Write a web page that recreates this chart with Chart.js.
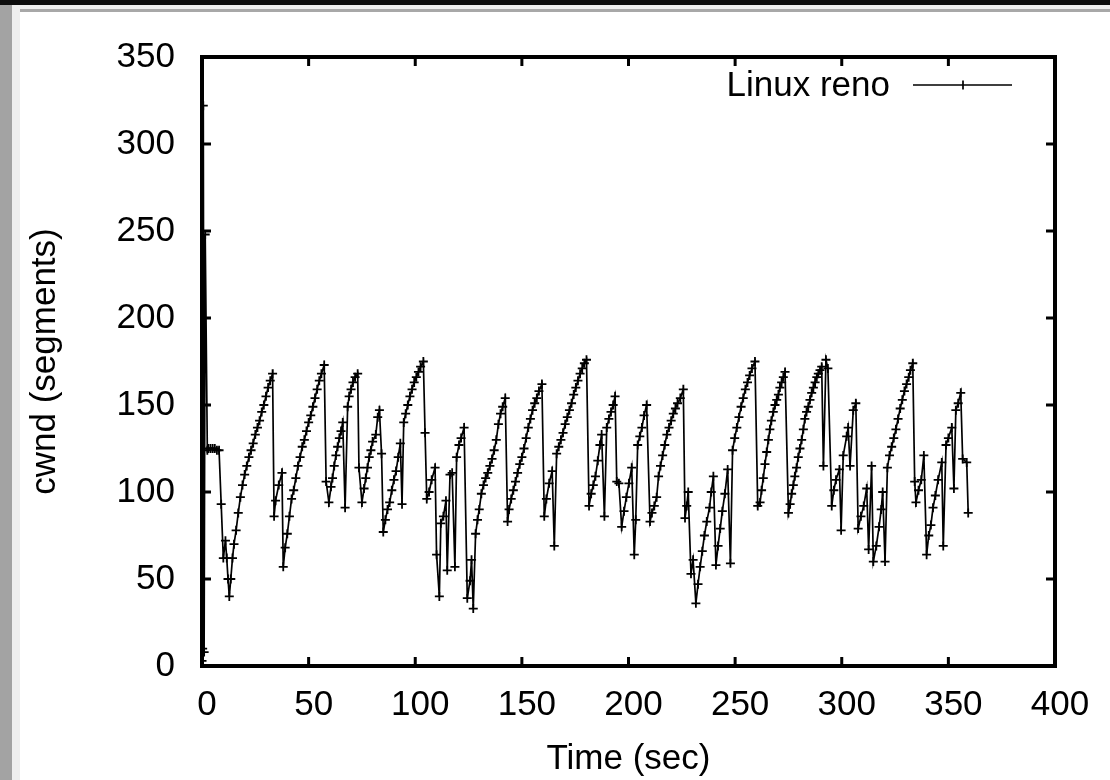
<!DOCTYPE html>
<html>
<head>
<meta charset="utf-8">
<script src="https://cdn.jsdelivr.net/npm/chart.js@4.4.0/dist/chart.umd.min.js"></script>
<style>
html,body{margin:0;padding:0;background:#fff;}
#wrap{position:relative;width:1110px;height:780px;overflow:hidden;background:#fff;}
.topband{position:absolute;left:0;top:0;width:1110px;height:5px;background:#0d0d0d;}
.leftband{position:absolute;left:0;top:5px;width:12px;height:775px;background:#a3a3a3;}
.leftlight{position:absolute;left:12px;top:5px;width:8px;height:775px;background:#efefef;}
.toplight{position:absolute;left:12px;top:5px;width:1098px;height:4px;background:#efefef;}
.topline{position:absolute;left:20px;top:9px;width:1090px;height:3px;background:#a8a8a8;}
canvas{position:absolute;left:0;top:0;}
</style>
</head>
<body>
<div id="wrap">
<div class="topband"></div><div class="leftband"></div><div class="leftlight"></div><div class="toplight"></div><div class="topline"></div>
<canvas id="c" width="1110" height="780"></canvas>
</div>
<script>
const seriesLabel = 'Linux reno';
const xTicks = [0, 50, 100, 150, 200, 250, 300, 350, 400];
const yTicks = [0, 50, 100, 150, 200, 250, 300, 350];

const time = [
0,0.3,0.6,1.0,1.5,2.5,3,4,5,6,7,8,9,10,11,11.6,12.2,12.8,13.5,14.3,15,16,17,18,19,20,21,22,23,24,25,26,27,28,29,30,31,32,33.1,
33.8,34.5,36,37.5,38.1,39,40,41,42,43,44,45,46,47,48,49,50,51,52,53,54,55,56,57.3,
58.2,59.5,60.5,61.2,62,62.8,63.6,64.4,65.2,66,67.1,68.3,69,69.9,70.8,71.8,73,
73.6,75,76,76.8,77.6,78.4,79.2,80,81.5,82.4,83.2,84.2,85,86,87,88,89,90,91,92,93,93.8,
94.6,95.5,96.5,97.5,98.5,99.5,100.5,101.5,102.5,103.8,
104.6,105.4,106.5,107.7,109.3,110,111.3,112,113.2,114.4,115,116.3,117.3,118.6,119.4,120.5,121.5,122.9,124.4,125.7,126.4,127.2,
128.3,129.2,130,131,132,133,134,135,136,137,138,139,140,141,142.2,
143.3,144,145,146,147,148,149,150,151,152,153,154,155,156,157,158,159.4,
160.5,161.5,162.8,164.2,165.2,166.3,167.3,168.3,169.3,170.3,171.3,172.3,173.3,174.3,175.3,176.3,177.3,178.3,179.3,180.3,
181.5,182.5,183.5,184.5,185.6,186.6,187.4,188.7,189.8,190.8,191.8,192.8,193.7,
194.5,195.5,196.8,197.9,199,200.2,201.5,202.7,203.4,204.3,205.3,206.3,207.3,208.5,
210.1,211,212.1,213.2,214.1,215,216,217,218,219,220,221,222,223,224.3,225.7,
226.5,227.3,228,229.3,230.3,231.6,232.6,233.6,234.6,235.6,236.7,238,238.8,239.8,
241,242,243,244,245.2,246.5,247.8,248.8,249.8,250.8,251.8,252.8,253.8,254.8,255.8,256.8,257.9,259.3,
260.6,261.7,262.4,263.2,264,264.8,265.6,266.3,267,267.9,268.7,269.5,270.3,271,271.8,272.6,273.4,
275,275.8,276.5,277.3,278,278.8,279.6,280.4,281.2,282,282.7,283.5,284.3,285.1,285.9,286.7,287.5,288.3,289,289.8,290.6,
291.4,292.6,293.5,295.3,296.3,297.3,298.9,299.7,300.7,302.3,303,303.9,305.4,306.6,
307.7,309,310.3,311.7,312.6,314,314.8,316.2,317.5,318.5,319.2,320.3,
321.4,322.4,323.4,324.4,325.4,326.4,327.4,328.4,329.4,330.4,331.4,332.2,333.3,
334.2,334.8,336,337.3,338.5,339.8,340.8,341.8,342.8,343.9,345.2,346.9,347.6,348.9,350,351.6,352.6,353.5,354.6,355.8,356.7,358.6,359.3
];
const cwnd = [
3,10,322,8,248,124,125,125,125,125,124,124,93,62,72,62,50,40,50,62,70,78,88,97,104,110,115,120,124,128,133,137,141,146,150,155,160,164,168,
86,95,104,111,57,68,76,86,96,101,108,115,120,126,130,135,140,144,149,154,159,164,168,173,
106,94,103,108,115,121,126,131,135,140,91,149,155,159,163,166,168,
114,94,102,108,114,120,124,129,133,143,147,122,77,84,90,94,101,107,112,120,128,93,
140,145,150,155,159,163,166,169,172,175,
134,96,100,107,114,64,40,82,86,95,55,110,111,57,120,127,131,137,39,49,61,33,
76,84,90,99,104,108,111,115,119,124,130,139,145,149,154,
83,90,96,101,106,111,116,120,125,131,137,142,147,151,154,158,162,
86,96,105,112,69,122,126,130,134,139,143,147,151,156,160,164,168,171,174,176,
92,99,104,109,118,127,133,86,137,142,146,150,155,
106,105,80,89,97,105,114,64,84,127,132,137,144,150,
83,88,92,97,109,115,121,127,133,137,141,145,148,151,154,159,
85,92,100,53,61,36,47,57,66,75,83,91,100,109,
58,69,79,89,99,113,59,124,131,137,143,149,154,159,163,167,171,175,
92,94,101,108,116,123,130,136,141,146,150,153,156,160,163,166,169,
88,93,99,104,109,114,120,125,130,136,142,146,149,153,157,160,163,166,168,170,172,
115,176,171,92,101,107,113,78,121,132,137,115,147,151,
79,86,92,102,67,115,60,69,80,90,100,60,
114,121,126,131,136,142,148,153,158,162,166,170,174,
106,94,101,107,121,64,75,81,91,98,107,117,69,127,131,137,102,147,151,157,119,117,88
];

const FONT = "'Liberation Sans', Arial, Helvetica, sans-serif";
const points = time.map((t, i) => ({x: t, y: cwnd[i]}));

const framePlugin = {
  id: 'frame',
  afterDatasetsDraw(chart) {
    const {ctx, chartArea: a, scales: {x, y}} = chart;
    ctx.save();
    ctx.strokeStyle = '#000';
    ctx.lineWidth = 3;
    ctx.lineCap = 'butt';
    const tl = 9;
    xTicks.forEach(v => {
      const px = x.getPixelForValue(v);
      ctx.beginPath();
      ctx.moveTo(px, a.bottom); ctx.lineTo(px, a.bottom - tl);
      ctx.moveTo(px, a.top); ctx.lineTo(px, a.top + tl);
      ctx.stroke();
    });
    yTicks.forEach(v => {
      const py = y.getPixelForValue(v);
      ctx.beginPath();
      ctx.moveTo(a.left, py); ctx.lineTo(a.left + tl, py);
      ctx.moveTo(a.right, py); ctx.lineTo(a.right - tl, py);
      ctx.stroke();
    });
    ctx.lineWidth = 4;
    ctx.strokeRect(a.left, a.top, a.right - a.left, a.bottom - a.top);
    // legend (gnuplot style: text then sample)
    const ly = a.top + 28;
    ctx.fillStyle = '#000';
    ctx.font = '35px ' + FONT;
    ctx.textAlign = 'right';
    ctx.textBaseline = 'middle';
    ctx.fillText(chart.data.datasets[0].label, a.right - 165, ly + 1);
    ctx.lineWidth = 1.7;
    ctx.strokeStyle = '#000';
    ctx.beginPath();
    ctx.moveTo(a.right - 142, ly); ctx.lineTo(a.right - 43, ly);
    const cx = a.right - 92;
    ctx.moveTo(cx - 4.5, ly); ctx.lineTo(cx + 4.5, ly);
    ctx.moveTo(cx, ly - 4.5); ctx.lineTo(cx, ly + 4.5);
    ctx.stroke();
    ctx.restore();
  }
};

new Chart(document.getElementById('c'), {
  type: 'line',
  data: {
    datasets: [{
      label: seriesLabel,
      data: points,
      borderColor: '#000',
      borderWidth: 1.7,
      pointStyle: 'cross',
      pointRadius: 4.5,
      pointBorderWidth: 1.8,
      pointBorderColor: '#000',
      pointBackgroundColor: '#000',
      tension: 0,
      fill: false
    }]
  },
  options: {
    responsive: false,
    animation: false,
    devicePixelRatio: 1,
    layout: {padding: {top: 57, right: 55, left: 0, bottom: 0}},
    plugins: {legend: {display: false}, tooltip: {enabled: false}},
    scales: {
      x: {
        type: 'linear', min: 0, max: 400,
        afterBuildTicks: s => { s.ticks = xTicks.map(v => ({value: v})); },
        afterFit: s => { s.height = 114; },
        grid: {display: false, drawTicks: false},
        border: {display: false},
        ticks: {color: '#000', font: {family: FONT, size: 35}, padding: 18, labelOffset: 5, maxRotation: 0, autoSkip: false},
        title: {display: true, text: 'Time (sec)', color: '#000', font: {family: FONT, size: 35}, padding: {top: 0, bottom: 0}}
      },
      y: {
        type: 'linear', min: 0, max: 350,
        afterBuildTicks: s => { s.ticks = yTicks.map(v => ({value: v})); },
        afterFit: s => { s.width = 202; },
        grid: {display: false, drawTicks: false},
        border: {display: false},
        ticks: {color: '#000', font: {family: FONT, size: 35}, padding: 27, autoSkip: false},
        title: {display: true, text: 'cwnd (segments)', color: '#000', font: {family: FONT, size: 35}, padding: {top: 24, bottom: 0}}
      }
    }
  },
  plugins: [framePlugin]
});
</script>
</body>
</html>
